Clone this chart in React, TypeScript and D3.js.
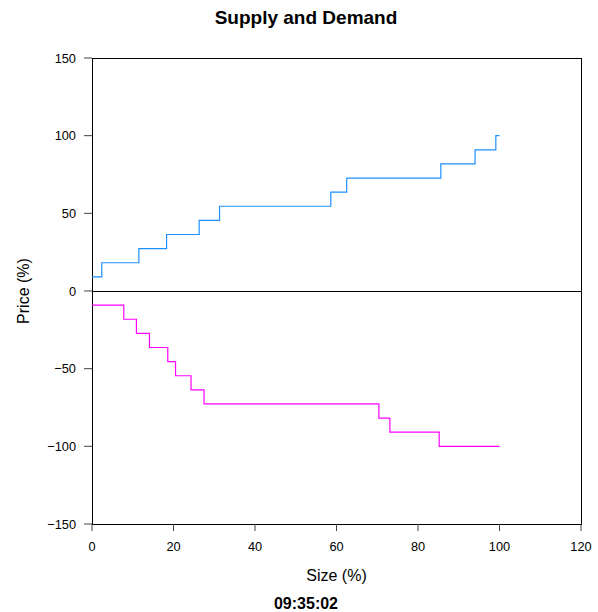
import React from "react";
import * as d3 from "d3";

const supplySize = [0, 2.4, 11.5, 18.3, 26.3, 31.3, 58.6, 62.5, 85.6, 94.0, 99.1, 100];
const supplyPrice = [9.09, 18.18, 27.27, 36.36, 45.45, 54.55, 63.64, 72.73, 81.82, 90.91, 100, 100];
const demandSize = [0, 7.8, 10.9, 14.1, 18.6, 20.5, 24.3, 27.5, 70.4, 73.1, 85.2, 100];
const demandPrice = [-9.09, -18.18, -27.27, -36.36, -45.45, -54.55, -63.64, -72.73, -81.82, -90.91, -100, -100];
const xTicks = [0, 20, 40, 60, 80, 100, 120];
const yTicks = [-150, -100, -50, 0, 50, 100, 150];
const title = "Supply and Demand";
const xLabel = "Size (%)";
const yLabel = "Price (%)";
const stamp = "09:35:02";

const W = 598, H = 612;
const L = 92, R = 581, T = 58, B = 524;
const FONT = "'Liberation Sans', Arial, Helvetica, sans-serif";

export default function App() {
  const x = d3.scaleLinear().domain([0, 120]).range([L, R]);
  const y = d3.scaleLinear().domain([-150, 150]).range([B, T]);
  const line = d3
    .line<[number, number]>()
    .x((d) => x(d[0]))
    .y((d) => y(d[1]))
    .curve(d3.curveStepAfter);
  const supply = supplySize.map((s, i) => [s, supplyPrice[i]] as [number, number]);
  const demand = demandSize.map((s, i) => [s, demandPrice[i]] as [number, number]);
  const fmt = (v: number) => (v < 0 ? "\u2212" + Math.abs(v) : String(v));
  return (
    <div style={{ position: "absolute", left: 0, top: 0 }}>
      <svg width={W} height={H} style={{ display: "block", background: "#fff" }} fontFamily={FONT}>
        <rect x={0} y={0} width={W} height={H} fill="#fff" />
        <text x={306} y={17} textAnchor="middle" dominantBaseline="central" fontSize={19} fontWeight="bold">
          {title}
        </text>
        {/* box */}
        <rect x={L} y={T} width={R - L} height={B - T} fill="none" stroke="#000" strokeWidth={1} shapeRendering="crispEdges" />
        {/* zero line */}
        <line x1={L} x2={R} y1={y(0)} y2={y(0)} stroke="#000" strokeWidth={1} shapeRendering="crispEdges" />
        <path d={line(supply) || ""} fill="none" stroke="#1E90FF" strokeWidth={1.2} />
        <path d={line(demand) || ""} fill="none" stroke="#FF00FF" strokeWidth={1.2} />
        {/* y axis */}
        {yTicks.map((t) => (
          <g key={"y" + t}>
            <line x1={L - 8} x2={L} y1={y(t)} y2={y(t)} stroke="#444" strokeWidth={1} />
            <text x={L - 16} y={y(t)} textAnchor="end" dominantBaseline="central" fontSize={12.8}>
              {fmt(t)}
            </text>
          </g>
        ))}
        {/* x axis */}
        {xTicks.map((t) => (
          <g key={"x" + t}>
            <line x1={x(t)} x2={x(t)} y1={B} y2={B + 7} stroke="#444" strokeWidth={1} />
            <text x={x(t)} y={546} textAnchor="middle" dominantBaseline="central" fontSize={12.8}>
              {fmt(t)}
            </text>
          </g>
        ))}
        <text x={(L + R) / 2} y={575} textAnchor="middle" dominantBaseline="central" fontSize={16}>
          {xLabel}
        </text>
        <text
          transform={`translate(23,${(T + B) / 2}) rotate(-90)`}
          textAnchor="middle"
          dominantBaseline="central"
          fontSize={16}
        >
          {yLabel}
        </text>
        <text x={306} y={603} textAnchor="middle" dominantBaseline="central" fontSize={16} fontWeight="bold">
          {stamp}
        </text>
      </svg>
    </div>
  );
}
